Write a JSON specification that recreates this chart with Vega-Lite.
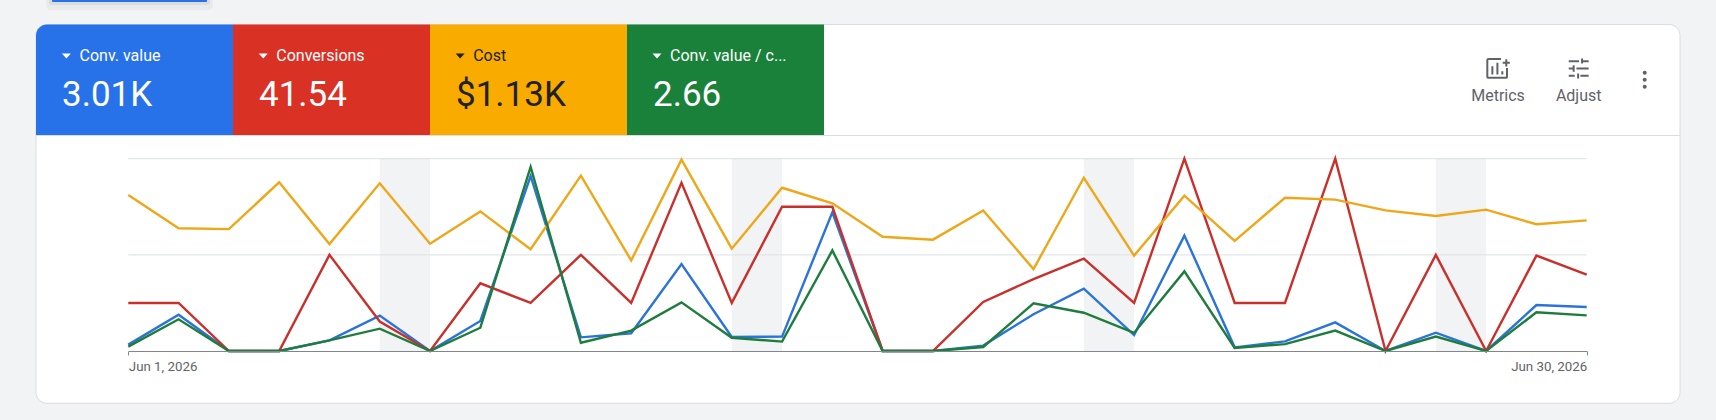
{
  "$schema": "https://vega.github.io/schema/vega-lite/v6.json",
  "width": 1716,
  "height": 420,
  "padding": 0,
  "autosize": {"type": "fit", "contains": "padding"},
  "background": "#f1f3f4",
  "view": {"stroke": null},
  "config": {"font": "Roboto"},
  "datasets": {
    "tiles": [
      {"metric": "Conv. value", "label": "Conv. value", "value": "3.01K"},
      {"metric": "Conversions", "label": "Conversions", "value": "41.54"},
      {"metric": "Cost", "label": "Cost", "value": "$1.13K"},
      {"metric": "Conv. value / cost", "label": "Conv. value / c...", "value": "2.66"}
    ],
    "actions": [
      {"action": "Metrics"},
      {"action": "Adjust"}
    ]
  },
  "layer": [
    {
      "data": {"values": [{"part": "shadow"}]},
      "mark": {"type": "rect", "fill": "#5f6368", "opacity": 0.06, "cornerRadiusBottomLeft": 6, "cornerRadiusBottomRight": 6},
      "encoding": {
        "x": {"field": "part", "type": "nominal", "axis": null, "scale": {"type": "band", "range": [46, 213], "paddingInner": 0, "paddingOuter": 0}},
        "y": {"field": "part", "type": "nominal", "axis": null, "scale": {"type": "band", "range": [0, 10], "paddingInner": 0, "paddingOuter": 0}}
      }
    },
    {
      "data": {"values": [{"part": "shadow"}]},
      "mark": {"type": "rect", "fill": "#5f6368", "opacity": 0.1, "cornerRadiusBottomLeft": 4, "cornerRadiusBottomRight": 4},
      "encoding": {
        "x": {"field": "part", "type": "nominal", "axis": null, "scale": {"type": "band", "range": [49, 210], "paddingInner": 0, "paddingOuter": 0}},
        "y": {"field": "part", "type": "nominal", "axis": null, "scale": {"type": "band", "range": [0, 5], "paddingInner": 0, "paddingOuter": 0}}
      }
    },
    {
      "data": {"values": [{"part": "button"}]},
      "mark": {"type": "rect", "fill": "#2872e9", "cornerRadiusBottomLeft": 2, "cornerRadiusBottomRight": 2},
      "encoding": {
        "x": {"field": "part", "type": "nominal", "axis": null, "scale": {"type": "band", "range": [52, 207], "paddingInner": 0, "paddingOuter": 0}},
        "y": {"field": "part", "type": "nominal", "axis": null, "scale": {"type": "band", "range": [0, 2], "paddingInner": 0, "paddingOuter": 0}}
      }
    },
    {
      "data": {"values": [{"part": "card"}]},
      "mark": {"type": "rect", "fill": "#ffffff", "stroke": "#dadce0", "strokeWidth": 1, "cornerRadius": 11},
      "encoding": {
        "x": {"field": "part", "type": "nominal", "axis": null, "scale": {"type": "band", "range": [36, 1680], "paddingInner": 0, "paddingOuter": 0}},
        "y": {"field": "part", "type": "nominal", "axis": null, "scale": {"type": "band", "range": [24.5, 403.3], "paddingInner": 0, "paddingOuter": 0}}
      }
    },
    {
      "data": {"values": [{"part": "divider"}]},
      "mark": {"type": "rect", "fill": "#dadce0"},
      "encoding": {
        "x": {"field": "part", "type": "nominal", "axis": null, "scale": {"type": "band", "range": [36, 1680], "paddingInner": 0, "paddingOuter": 0}},
        "y": {"field": "part", "type": "nominal", "axis": null, "scale": {"type": "band", "range": [135, 136], "paddingInner": 0, "paddingOuter": 0}}
      }
    },
    {
      "data": {"name": "tiles"},
      "transform": [{"filter": "datum.metric === 'Conv. value'"}],
      "mark": {"type": "rect", "fill": "#2872e9", "cornerRadiusTopLeft": 11},
      "encoding": {
        "x": {"field": "metric", "type": "nominal", "axis": null, "scale": {"type": "band", "domain": ["Conv. value", "Conversions", "Cost", "Conv. value / cost"], "range": [36, 824], "paddingInner": 0, "paddingOuter": 0}},
        "y": {"datum": "tile", "type": "nominal", "axis": null, "scale": {"type": "band", "range": [24.5, 135], "paddingInner": 0, "paddingOuter": 0}}
      }
    },
    {
      "data": {"name": "tiles"},
      "transform": [{"filter": "datum.metric !== 'Conv. value'"}],
      "mark": {"type": "rect"},
      "encoding": {
        "x": {"field": "metric", "type": "nominal", "axis": null, "scale": {"type": "band", "domain": ["Conv. value", "Conversions", "Cost", "Conv. value / cost"], "range": [36, 824], "paddingInner": 0, "paddingOuter": 0}},
        "y": {"datum": "tile", "type": "nominal", "axis": null, "scale": {"type": "band", "range": [24.5, 135], "paddingInner": 0, "paddingOuter": 0}},
        "color": {"field": "metric", "type": "nominal", "legend": null, "scale": {"domain": ["Conversions", "Cost", "Conv. value / cost"], "range": ["#da3125", "#f9ab00", "#1a813a"]}}
      }
    },
    {
      "data": {"name": "tiles"},
      "mark": {"type": "point", "shape": "M -1 -0.55 L 1 -0.55 L 0 0.55 Z", "filled": true, "opacity": 1, "size": 81},
      "encoding": {
        "x": {"field": "metric", "type": "nominal", "axis": null, "sort": null, "scale": {"type": "point", "domain": ["Conv. value", "Conversions", "Cost", "Conv. value / cost"], "range": [66.4, 657], "padding": 0}},
        "y": {"datum": "label", "type": "nominal", "axis": null, "scale": {"type": "point", "domain": ["label", "value"], "range": [56, 94.7], "padding": 0}},
        "color": {"condition": {"test": "datum.metric === 'Cost'", "value": "#202124"}, "value": "#ffffff"}
      }
    },
    {
      "data": {"name": "tiles"},
      "mark": {"type": "text", "align": "left", "baseline": "middle", "fontSize": 16},
      "encoding": {
        "x": {"field": "metric", "type": "nominal", "axis": null, "scale": {"type": "point", "domain": ["Conv. value", "Conversions", "Cost", "Conv. value / cost"], "range": [79.5, 670], "padding": 0}},
        "y": {"datum": "label", "type": "nominal", "axis": null, "scale": {"type": "point", "domain": ["label", "value"], "range": [56, 94.7], "padding": 0}},
        "text": {"field": "label"},
        "color": {"condition": {"test": "datum.metric === 'Cost'", "value": "#202124"}, "value": "#ffffff"}
      }
    },
    {
      "data": {"name": "tiles"},
      "mark": {"type": "text", "align": "left", "baseline": "middle", "fontSize": 35},
      "encoding": {
        "x": {"field": "metric", "type": "nominal", "axis": null, "scale": {"type": "point", "domain": ["Conv. value", "Conversions", "Cost", "Conv. value / cost"], "range": [62, 653], "padding": 0}},
        "y": {"datum": "value", "type": "nominal", "axis": null, "scale": {"type": "point", "domain": ["label", "value"], "range": [56, 94.7], "padding": 0}},
        "text": {"field": "value"},
        "color": {"condition": {"test": "datum.metric === 'Cost'", "value": "#202124"}, "value": "#ffffff"}
      }
    },
    {
      "data": {"name": "actions"},
      "mark": {"type": "text", "align": "center", "baseline": "middle", "fontSize": 16, "color": "#5f6368"},
      "encoding": {
        "x": {"field": "action", "type": "nominal", "axis": null, "scale": {"type": "point", "domain": ["Metrics", "Adjust"], "range": [1498, 1578.7], "padding": 0}},
        "y": {"datum": "caption", "type": "nominal", "axis": null, "scale": {"type": "point", "domain": ["icon", "caption"], "range": [68.5, 96], "padding": 0}},
        "text": {"field": "action"}
      }
    },
    {
      "data": {"name": "actions"},
      "transform": [{"filter": "datum.action === 'Metrics'"}],
      "mark": {"type": "point", "shape": "M 0.25 -0.8 H -0.8 Q -0.89 -0.8 -0.89 -0.7 V 0.68 Q -0.89 0.78 -0.8 0.78 H 0.65 Q 0.75 0.78 0.75 0.68 V -0.05 M -0.47 0.5 V -0.19 M -0.05 0.5 V -0.47 M 0.36 0.5 V 0.22 M 0.39 -0.47 H 0.99 M 0.69 -0.77 V -0.17", "filled": false, "opacity": 1, "size": 576, "stroke": "#5f6368", "strokeWidth": 2},
      "encoding": {
        "x": {"field": "action", "type": "nominal", "axis": null, "scale": {"type": "point", "domain": ["Metrics", "Adjust"], "range": [1498, 1578.7], "padding": 0}},
        "y": {"datum": "icon", "type": "nominal", "axis": null, "scale": {"type": "point", "domain": ["icon", "caption"], "range": [68.5, 96], "padding": 0}}
      }
    },
    {
      "data": {"name": "actions"},
      "transform": [{"filter": "datum.action === 'Adjust'"}],
      "mark": {"type": "point", "shape": "M -0.83 -0.61 H 0.03 M 0.36 -0.61 H 0.83 M 0.28 -0.83 V -0.42 M -0.83 0 H -0.42 M -0.19 0 H 0.83 M -0.42 -0.28 V 0.28 M -0.83 0.61 H -0.33 M 0.14 0.61 H 0.83 M -0.05 0.42 V 0.83", "filled": false, "opacity": 1, "size": 576, "stroke": "#5f6368", "strokeWidth": 2},
      "encoding": {
        "x": {"field": "action", "type": "nominal", "axis": null, "scale": {"type": "point", "domain": ["Metrics", "Adjust"], "range": [1498, 1578.7], "padding": 0}},
        "y": {"datum": "icon", "type": "nominal", "axis": null, "scale": {"type": "point", "domain": ["icon", "caption"], "range": [68.5, 96], "padding": 0}}
      }
    },
    {
      "data": {"values": [{"dot": "a"}, {"dot": "b"}, {"dot": "c"}]},
      "mark": {"type": "point", "shape": "circle", "filled": true, "opacity": 1, "size": 16, "color": "#5f6368"},
      "encoding": {
        "x": {"datum": "more", "type": "nominal", "axis": null, "scale": {"type": "point", "range": [1644.7, 1644.7], "padding": 0}},
        "y": {"field": "dot", "type": "nominal", "axis": null, "scale": {"type": "point", "domain": ["a", "b", "c"], "range": [72.7, 86.7], "padding": 0}}
      }
    },
    {
      "layer": [
        {
          "data": {"values": [
            {"start": "2026-06-06T00:00:00", "end": "2026-06-07T00:00:00"},
            {"start": "2026-06-13T00:00:00", "end": "2026-06-14T00:00:00"},
            {"start": "2026-06-20T00:00:00", "end": "2026-06-21T00:00:00"},
            {"start": "2026-06-27T00:00:00", "end": "2026-06-28T00:00:00"}
          ]},
          "mark": {"type": "rect", "fill": "#f1f3f4"},
          "encoding": {
            "x": {
              "field": "start",
              "type": "temporal",
              "scale": {"domain": [{"year": 2026, "month": "jun", "date": 1}, {"year": 2026, "month": "jun", "date": 30}], "range": [128.3, 1586.7]},
              "axis": {
                "title": null,
                "grid": false,
                "values": [{"year": 2026, "month": "jun", "date": 1}, {"year": 2026, "month": "jun", "date": 30}],
                "format": "%b %-d, %Y",
                "labelFlush": true,
                "labelFontSize": 13.3,
                "labelFontWeight": 400,
                "labelColor": "#5f6368",
                "labelPadding": 4,
                "tickSize": 4,
                "tickColor": "#80868b",
                "domainColor": "#80868b",
                "offset": -69,
                "zindex": 1
              }
            },
            "x2": {"field": "end"},
            "y": {"datum": 0, "type": "quantitative", "axis": null},
            "y2": {"datum": 100}
          }
        },
        {
          "data": {"values": [
            {"start": "2026-06-01T00:00:00", "end": "2026-06-30T00:00:00", "level": 50},
            {"start": "2026-06-01T00:00:00", "end": "2026-06-30T00:00:00", "level": 100}
          ]},
          "mark": {"type": "rule", "stroke": "#e3e5e8", "strokeWidth": 1.3},
          "encoding": {
            "x": {"field": "start", "type": "temporal"},
            "x2": {"field": "end"},
            "y": {"field": "level", "type": "quantitative", "axis": null}
          }
        },
        {
          "data": {"values": [
            {"date": "2026-06-01T00:00:00", "series": "Conv. value", "v": 3.3},
            {"date": "2026-06-02T00:00:00", "series": "Conv. value", "v": 18.9},
            {"date": "2026-06-03T00:00:00", "series": "Conv. value", "v": 0},
            {"date": "2026-06-04T00:00:00", "series": "Conv. value", "v": 0},
            {"date": "2026-06-05T00:00:00", "series": "Conv. value", "v": 5.5},
            {"date": "2026-06-06T00:00:00", "series": "Conv. value", "v": 18.4},
            {"date": "2026-06-07T00:00:00", "series": "Conv. value", "v": 0},
            {"date": "2026-06-08T00:00:00", "series": "Conv. value", "v": 15.6},
            {"date": "2026-06-09T00:00:00", "series": "Conv. value", "v": 91},
            {"date": "2026-06-10T00:00:00", "series": "Conv. value", "v": 7.1},
            {"date": "2026-06-11T00:00:00", "series": "Conv. value", "v": 9.2},
            {"date": "2026-06-12T00:00:00", "series": "Conv. value", "v": 45.2},
            {"date": "2026-06-13T00:00:00", "series": "Conv. value", "v": 7.3},
            {"date": "2026-06-14T00:00:00", "series": "Conv. value", "v": 7.5},
            {"date": "2026-06-15T00:00:00", "series": "Conv. value", "v": 72.1},
            {"date": "2026-06-16T00:00:00", "series": "Conv. value", "v": 0},
            {"date": "2026-06-17T00:00:00", "series": "Conv. value", "v": 0},
            {"date": "2026-06-18T00:00:00", "series": "Conv. value", "v": 2.8},
            {"date": "2026-06-19T00:00:00", "series": "Conv. value", "v": 19.1},
            {"date": "2026-06-20T00:00:00", "series": "Conv. value", "v": 32.4},
            {"date": "2026-06-21T00:00:00", "series": "Conv. value", "v": 8.3},
            {"date": "2026-06-22T00:00:00", "series": "Conv. value", "v": 60},
            {"date": "2026-06-23T00:00:00", "series": "Conv. value", "v": 1.9},
            {"date": "2026-06-24T00:00:00", "series": "Conv. value", "v": 5},
            {"date": "2026-06-25T00:00:00", "series": "Conv. value", "v": 14.9},
            {"date": "2026-06-26T00:00:00", "series": "Conv. value", "v": 0},
            {"date": "2026-06-27T00:00:00", "series": "Conv. value", "v": 9.5},
            {"date": "2026-06-28T00:00:00", "series": "Conv. value", "v": 0},
            {"date": "2026-06-29T00:00:00", "series": "Conv. value", "v": 23.9},
            {"date": "2026-06-30T00:00:00", "series": "Conv. value", "v": 22.9},
            {"date": "2026-06-01T00:00:00", "series": "Conversions", "v": 25},
            {"date": "2026-06-02T00:00:00", "series": "Conversions", "v": 25},
            {"date": "2026-06-03T00:00:00", "series": "Conversions", "v": 0},
            {"date": "2026-06-04T00:00:00", "series": "Conversions", "v": 0},
            {"date": "2026-06-05T00:00:00", "series": "Conversions", "v": 50},
            {"date": "2026-06-06T00:00:00", "series": "Conversions", "v": 15.3},
            {"date": "2026-06-07T00:00:00", "series": "Conversions", "v": 0},
            {"date": "2026-06-08T00:00:00", "series": "Conversions", "v": 35.2},
            {"date": "2026-06-09T00:00:00", "series": "Conversions", "v": 25},
            {"date": "2026-06-10T00:00:00", "series": "Conversions", "v": 50},
            {"date": "2026-06-11T00:00:00", "series": "Conversions", "v": 25},
            {"date": "2026-06-12T00:00:00", "series": "Conversions", "v": 87.5},
            {"date": "2026-06-13T00:00:00", "series": "Conversions", "v": 25},
            {"date": "2026-06-14T00:00:00", "series": "Conversions", "v": 75},
            {"date": "2026-06-15T00:00:00", "series": "Conversions", "v": 75},
            {"date": "2026-06-16T00:00:00", "series": "Conversions", "v": 0},
            {"date": "2026-06-17T00:00:00", "series": "Conversions", "v": 0},
            {"date": "2026-06-18T00:00:00", "series": "Conversions", "v": 25.5},
            {"date": "2026-06-19T00:00:00", "series": "Conversions", "v": 37.4},
            {"date": "2026-06-20T00:00:00", "series": "Conversions", "v": 48},
            {"date": "2026-06-21T00:00:00", "series": "Conversions", "v": 25},
            {"date": "2026-06-22T00:00:00", "series": "Conversions", "v": 100},
            {"date": "2026-06-23T00:00:00", "series": "Conversions", "v": 25},
            {"date": "2026-06-24T00:00:00", "series": "Conversions", "v": 25},
            {"date": "2026-06-25T00:00:00", "series": "Conversions", "v": 100},
            {"date": "2026-06-26T00:00:00", "series": "Conversions", "v": 0},
            {"date": "2026-06-27T00:00:00", "series": "Conversions", "v": 50},
            {"date": "2026-06-28T00:00:00", "series": "Conversions", "v": 0},
            {"date": "2026-06-29T00:00:00", "series": "Conversions", "v": 49.6},
            {"date": "2026-06-30T00:00:00", "series": "Conversions", "v": 39.7},
            {"date": "2026-06-01T00:00:00", "series": "Cost", "v": 81.1},
            {"date": "2026-06-02T00:00:00", "series": "Cost", "v": 63.8},
            {"date": "2026-06-03T00:00:00", "series": "Cost", "v": 63.4},
            {"date": "2026-06-04T00:00:00", "series": "Cost", "v": 87.7},
            {"date": "2026-06-05T00:00:00", "series": "Cost", "v": 55.6},
            {"date": "2026-06-06T00:00:00", "series": "Cost", "v": 87.2},
            {"date": "2026-06-07T00:00:00", "series": "Cost", "v": 55.8},
            {"date": "2026-06-08T00:00:00", "series": "Cost", "v": 72.6},
            {"date": "2026-06-09T00:00:00", "series": "Cost", "v": 52.9},
            {"date": "2026-06-10T00:00:00", "series": "Cost", "v": 91.2},
            {"date": "2026-06-11T00:00:00", "series": "Cost", "v": 47.1},
            {"date": "2026-06-12T00:00:00", "series": "Cost", "v": 99.5},
            {"date": "2026-06-13T00:00:00", "series": "Cost", "v": 53.2},
            {"date": "2026-06-14T00:00:00", "series": "Cost", "v": 84.9},
            {"date": "2026-06-15T00:00:00", "series": "Cost", "v": 76.8},
            {"date": "2026-06-16T00:00:00", "series": "Cost", "v": 59.4},
            {"date": "2026-06-17T00:00:00", "series": "Cost", "v": 57.9},
            {"date": "2026-06-18T00:00:00", "series": "Cost", "v": 73.1},
            {"date": "2026-06-19T00:00:00", "series": "Cost", "v": 42.6},
            {"date": "2026-06-20T00:00:00", "series": "Cost", "v": 90.1},
            {"date": "2026-06-21T00:00:00", "series": "Cost", "v": 49.6},
            {"date": "2026-06-22T00:00:00", "series": "Cost", "v": 80.8},
            {"date": "2026-06-23T00:00:00", "series": "Cost", "v": 57.2},
            {"date": "2026-06-24T00:00:00", "series": "Cost", "v": 79.7},
            {"date": "2026-06-25T00:00:00", "series": "Cost", "v": 78.7},
            {"date": "2026-06-26T00:00:00", "series": "Cost", "v": 73.1},
            {"date": "2026-06-27T00:00:00", "series": "Cost", "v": 70.2},
            {"date": "2026-06-28T00:00:00", "series": "Cost", "v": 73.5},
            {"date": "2026-06-29T00:00:00", "series": "Cost", "v": 65.9},
            {"date": "2026-06-30T00:00:00", "series": "Cost", "v": 67.9},
            {"date": "2026-06-01T00:00:00", "series": "Conv. value / cost", "v": 2.3},
            {"date": "2026-06-02T00:00:00", "series": "Conv. value / cost", "v": 16.5},
            {"date": "2026-06-03T00:00:00", "series": "Conv. value / cost", "v": 0},
            {"date": "2026-06-04T00:00:00", "series": "Conv. value / cost", "v": 0},
            {"date": "2026-06-05T00:00:00", "series": "Conv. value / cost", "v": 5.5},
            {"date": "2026-06-06T00:00:00", "series": "Conv. value / cost", "v": 11.6},
            {"date": "2026-06-07T00:00:00", "series": "Conv. value / cost", "v": 0},
            {"date": "2026-06-08T00:00:00", "series": "Conv. value / cost", "v": 12.1},
            {"date": "2026-06-09T00:00:00", "series": "Conv. value / cost", "v": 95.7},
            {"date": "2026-06-10T00:00:00", "series": "Conv. value / cost", "v": 4.3},
            {"date": "2026-06-11T00:00:00", "series": "Conv. value / cost", "v": 10.6},
            {"date": "2026-06-12T00:00:00", "series": "Conv. value / cost", "v": 25.3},
            {"date": "2026-06-13T00:00:00", "series": "Conv. value / cost", "v": 6.9},
            {"date": "2026-06-14T00:00:00", "series": "Conv. value / cost", "v": 4.9},
            {"date": "2026-06-15T00:00:00", "series": "Conv. value / cost", "v": 52.3},
            {"date": "2026-06-16T00:00:00", "series": "Conv. value / cost", "v": 0},
            {"date": "2026-06-17T00:00:00", "series": "Conv. value / cost", "v": 0},
            {"date": "2026-06-18T00:00:00", "series": "Conv. value / cost", "v": 2.1},
            {"date": "2026-06-19T00:00:00", "series": "Conv. value / cost", "v": 24.8},
            {"date": "2026-06-20T00:00:00", "series": "Conv. value / cost", "v": 19.9},
            {"date": "2026-06-21T00:00:00", "series": "Conv. value / cost", "v": 9.4},
            {"date": "2026-06-22T00:00:00", "series": "Conv. value / cost", "v": 41.4},
            {"date": "2026-06-23T00:00:00", "series": "Conv. value / cost", "v": 1.6},
            {"date": "2026-06-24T00:00:00", "series": "Conv. value / cost", "v": 3.6},
            {"date": "2026-06-25T00:00:00", "series": "Conv. value / cost", "v": 10.6},
            {"date": "2026-06-26T00:00:00", "series": "Conv. value / cost", "v": 0},
            {"date": "2026-06-27T00:00:00", "series": "Conv. value / cost", "v": 7.5},
            {"date": "2026-06-28T00:00:00", "series": "Conv. value / cost", "v": 0},
            {"date": "2026-06-29T00:00:00", "series": "Conv. value / cost", "v": 20.1},
            {"date": "2026-06-30T00:00:00", "series": "Conv. value / cost", "v": 18.5}
          ]},
          "mark": {"type": "line", "strokeWidth": 2.4},
          "encoding": {
            "x": {"field": "date", "type": "temporal"},
            "y": {
              "field": "v",
              "type": "quantitative",
              "axis": null,
              "scale": {"domain": [0, 100], "range": [351, 158.7], "nice": false}
            },
            "color": {
              "field": "series",
              "type": "nominal",
              "legend": null,
              "sort": null,
              "scale": {"domain": ["Conv. value", "Conversions", "Cost", "Conv. value / cost"], "range": ["#2a74d9", "#c9302c", "#efa71a", "#1e7d3c"]}
            }
          }
        }
      ]
    }
  ],
  "resolve": {"scale": {"x": "independent", "y": "independent", "color": "independent"}}
}
